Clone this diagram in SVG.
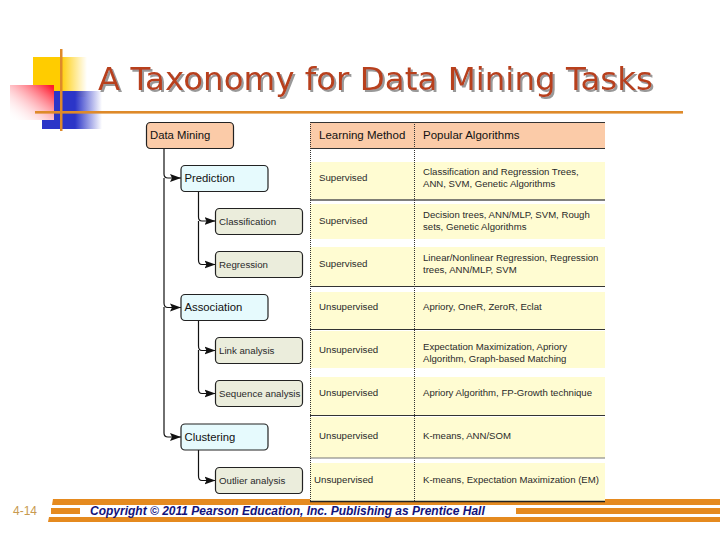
<svg xmlns="http://www.w3.org/2000/svg" width="720" height="540" viewBox="0 0 720 540">
<defs>
<linearGradient id="gy" x1="0" x2="1" y1="0" y2="0"><stop offset="0.5" stop-color="#FFCC00"/><stop offset="1" stop-color="#FFCC00" stop-opacity="0"/></linearGradient>
<linearGradient id="gb" x1="0" x2="1" y1="0" y2="0"><stop offset="0.55" stop-color="#2B35C8"/><stop offset="1" stop-color="#2B35C8" stop-opacity="0"/></linearGradient>
<linearGradient id="gr" x1="1" x2="0" y1="0" y2="1"><stop offset="0.05" stop-color="#FF1A2E"/><stop offset="1" stop-color="#FFFFFF" stop-opacity="0"/></linearGradient>
<filter id="sh" x="-5%" y="-20%" width="110%" height="140%"><feDropShadow dx="2" dy="2" stdDeviation="0.4" flood-color="#999"/></filter>
<marker id="ah" markerUnits="userSpaceOnUse" markerWidth="12" markerHeight="10" refX="11" refY="5" orient="auto"><path d="M0 1L11 5L0 9L2 5Z" fill="#111"/></marker>
</defs>
<style>
text{font-family:"Liberation Sans",Arial,sans-serif;fill:#2a2a2a}
.box{stroke:#222;stroke-width:1.2}
.root{fill:#FBCBA8}.mid{fill:#E6FAFD}.leaf{fill:#EBEDDC}
.l1{font-size:11.3px;fill:#111}.l2{font-size:9.7px}
.t{font-size:9.6px}.m{font-size:9.7px}
.h{font-size:11.5px;fill:#111}
.conn{fill:none;stroke:#111;stroke-width:1.2;marker-end:url(#ah)}
.band{fill:#FFFCD2}
.sep{stroke:#333;stroke-width:1;fill:none}
.dot{stroke:#333;stroke-width:1;stroke-dasharray:1 1;fill:none}
.bar{fill:#E58A1F}
</style>

<g id="logo">
<rect x="33" y="57" width="54" height="40" fill="url(#gy)"/>
<rect x="42" y="91" width="60" height="38" fill="url(#gb)"/>
<rect x="10" y="85" width="44" height="35" fill="#fff"/>
<rect x="10" y="85" width="44" height="35" fill="url(#gr)"/>
<rect x="60" y="49" width="2.5" height="82" fill="#DE8A2A"/>
<rect x="35" y="111" width="648" height="2.6" fill="#DE8A2A"/>
</g>
<g id="title">
<text x="98" y="90" font-size="32" textLength="555" lengthAdjust="spacingAndGlyphs" filter="url(#sh)" style="font-family:'DejaVu Sans',sans-serif;fill:#B8401E">A Taxonomy for Data Mining Tasks</text>
</g>

<g id="footer-bars">
<path class="bar" d="M53 499H720V505H52Z"/>
<rect x="51" y="508" width="29" height="6" class="bar"/>
<rect x="516" y="508" width="204" height="6" class="bar"/>
<path class="bar" d="M49 517H720V522H48Z"/>
</g>

<g id="table">
<rect x="310" y="122.500" width="295" height="25.500" fill="#FBCBA8"/>
<rect class="band" x="310" y="162" width="295" height="38"/>
<rect class="band" x="310" y="204" width="295" height="35"/>
<rect class="band" x="310" y="247" width="295" height="39"/>
<rect class="band" x="310" y="292" width="295" height="37"/>
<rect class="band" x="310" y="331" width="295" height="37"/>
<rect class="band" x="310" y="377" width="295" height="38"/>
<rect class="band" x="310" y="417" width="295" height="41"/>
<rect class="band" x="310" y="463" width="295" height="38"/>
<path class="sep" d="M310 122.500H605M310 148.500H605M310 286.500H605M310 329.500H605M310 415.500H605"/>
<path d="M310 200H605" stroke="#555" stroke-width="1.600" fill="none"/>
<path d="M310 458H605" stroke="#777" stroke-width="1" fill="none"/>
<path d="M310 501.500H605" stroke="#222" stroke-width="1.500" fill="none"/>
<path class="dot" d="M310.500 122V501M414.500 122V501"/>
<text class="h" x="319" y="139">Learning Method</text>
<text class="h" x="423" y="139">Popular Algorithms</text>
<text class="m" x="319" y="181">Supervised</text>
<text class="t" x="423" y="175">Classification and Regression Trees,</text>
<text class="t" x="423" y="187">ANN, SVM, Genetic Algorithms</text>
<text class="m" x="319" y="224">Supervised</text>
<text class="t" x="423" y="218">Decision trees, ANN/MLP, SVM, Rough</text>
<text class="t" x="423" y="230">sets, Genetic Algorithms</text>
<text class="m" x="319" y="267">Supervised</text>
<text class="t" x="423" y="261">Linear/Nonlinear Regression, Regression</text>
<text class="t" x="423" y="273">trees, ANN/MLP, SVM</text>
<text class="m" x="319" y="310">Unsupervised</text>
<text class="t" x="423" y="310">Apriory, OneR, ZeroR, Eclat</text>
<text class="m" x="319" y="353">Unsupervised</text>
<text class="t" x="423" y="350">Expectation Maximization, Apriory</text>
<text class="t" x="423" y="361.500">Algorithm, Graph-based Matching</text>
<text class="m" x="319" y="396">Unsupervised</text>
<text class="t" x="423" y="396">Apriory Algorithm, FP-Growth technique</text>
<text class="m" x="319" y="439">Unsupervised</text>
<text class="t" x="423" y="439">K-means, ANN/SOM</text>
<text class="m" x="314" y="483">Unsupervised</text>
<text class="t" x="423" y="483">K-means, Expectation Maximization (EM)</text>
</g>

<g id="connectors">
<path class="conn" d="M164 148.500V174Q164 178 168 178H181"/>
<path class="conn" d="M164 178V303Q164 307.500 168 307.500H181"/>
<path class="conn" d="M164 307V433Q164 437 168 437H181"/>
<path class="conn" d="M198.500 191V217Q198.500 221 202 221H215.500"/>
<path class="conn" d="M198.500 221V260Q198.500 264.500 202 264.500H215.500"/>
<path class="conn" d="M198.500 321V346Q198.500 350.500 202 350.500H215.500"/>
<path class="conn" d="M198.500 350V389Q198.500 393.500 202 393.500H215.500"/>
<path class="conn" d="M198.500 450V476Q198.500 480.500 202 480.500H215.500"/>
</g>

<g id="n-data-mining"><rect class="box root" x="146.500" y="122.500" width="87" height="26" rx="4"/><text class="l1" x="150" y="139">Data Mining</text></g>
<g id="n-prediction"><rect class="box mid" x="181" y="165.500" width="87" height="26" rx="4"/><text class="l1" x="184.500" y="181.500">Prediction</text></g>
<g id="n-classification"><rect class="box leaf" x="215.500" y="208.500" width="87" height="26" rx="4"/><text class="l2" x="219" y="224.500">Classification</text></g>
<g id="n-regression"><rect class="box leaf" x="215.500" y="251.500" width="87" height="26" rx="4"/><text class="l2" x="219" y="267.500">Regression</text></g>
<g id="n-association"><rect class="box mid" x="181" y="294.500" width="87" height="26" rx="4"/><text class="l1" x="184.500" y="311">Association</text></g>
<g id="n-link"><rect class="box leaf" x="215.500" y="337.500" width="87" height="26" rx="4"/><text class="l2" x="219" y="353.500">Link analysis</text></g>
<g id="n-sequence"><rect class="box leaf" x="215.500" y="380.500" width="87" height="26" rx="4"/><text class="l2" x="219" y="396.500">Sequence analysis</text></g>
<g id="n-clustering"><rect class="box mid" x="181" y="424" width="87" height="26" rx="4"/><text class="l1" x="184.500" y="440.500">Clustering</text></g>
<g id="n-outlier"><rect class="box leaf" x="215.500" y="467.500" width="87" height="26" rx="4"/><text class="l2" x="219" y="483.500">Outlier analysis</text></g>

<g id="footer">
<text x="13" y="515" font-size="12" style="fill:#C89A50">4-14</text>
<text x="90" y="515" font-size="12" font-weight="bold" font-style="italic" style="fill:#12127A">Copyright © 2011 Pearson Education, Inc. Publishing as Prentice Hall</text>
</g>
</svg>
